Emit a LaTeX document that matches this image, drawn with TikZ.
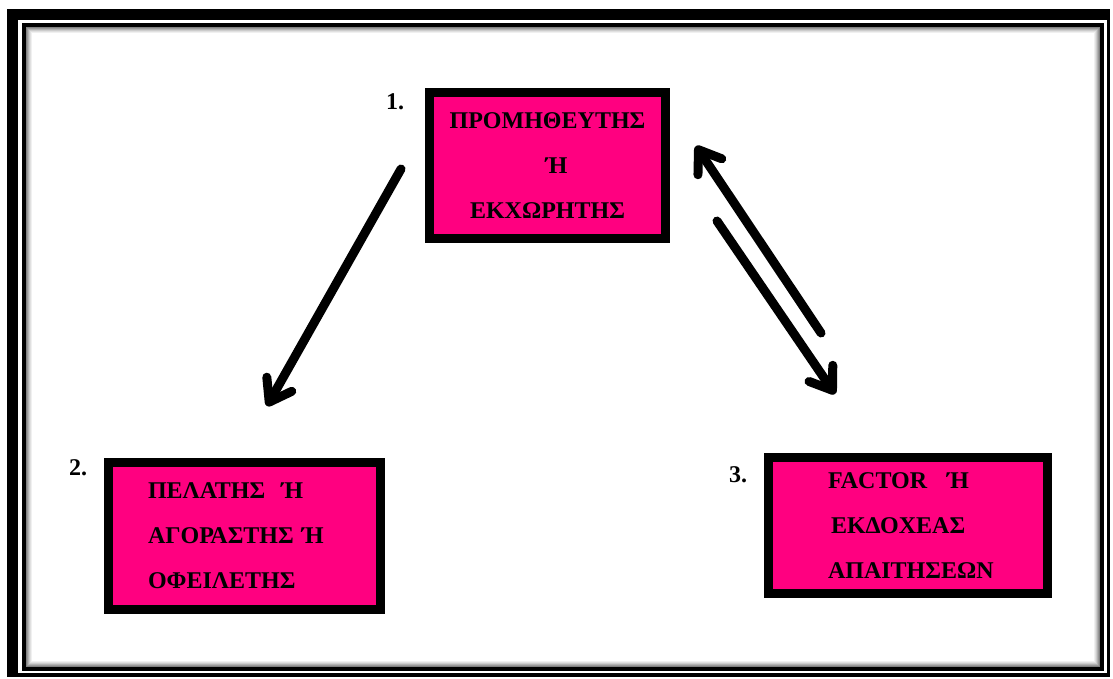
\documentclass[tikz,border=0pt]{standalone}
\usepackage{fontspec}
\setmainfont{Liberation Serif}
\usepackage{xcolor}
\usepackage{tikz}
\usetikzlibrary{arrows.meta}
\definecolor{boxpink}{RGB}{255,0,128}

\tikzset{
  partybox/.style={draw=black, line width=9pt, fill=boxpink, inner sep=0pt,
    font=\bfseries\fontsize{24}{45}\selectfont},
  numlabel/.style={inner sep=0pt, font=\bfseries\fontsize{24}{28}\selectfont},
  flow/.style={line width=9pt, line cap=round, -{Straight Barb[angle=70:25pt,round]}},
}

\begin{document}
\begin{tikzpicture}[x=1pt,y=-1pt]
            \useasboundingbox (0,0) rectangle (1113,678);

            % frame
            \fill[black] (7,9) rectangle (1110,677);
            \fill[white] (18,20) rectangle (1107,673);
            \draw[line width=4pt] (24,24.5) rectangle (1102,669);
            \foreach \i/\g in {1/50,2/40,3/30,4/20,5/12,6/6}
              \draw[black!\g, line width=1pt] (26+\i-0.5,27+\i-0.5) rectangle (1100-\i+0.5,667-\i+0.5);

            % parties
            \node[partybox, minimum width=236pt, minimum height=146pt, align=center]
              (supplier) at (547.5,165.5) {ΠΡΟΜΗΘΕΥΤΗΣ\\\hspace{18pt}Ή\\ΕΚΧΩΡΗΤΗΣ};
            \node[partybox, minimum width=272pt, minimum height=147pt, align=left, text width=192pt]
              (customer) at (244,535.5) {ΠΕΛΑΤΗΣ\hspace{16pt}Ή\\ΑΓΟΡΑΣΤΗΣ Ή\\ΟΦΕΙΛΕΤΗΣ};
            \node[partybox, minimum width=279pt, minimum height=136pt, align=left, text width=160pt]
              (factor) at (908,525.5) {FACTOR\hspace{20pt}Ή\\\hspace{3pt}ΕΚΔΟΧΕΑΣ\\ΑΠΑΙΤΗΣΕΩΝ};

            % numbers
            \node[numlabel] (num1) at (395,102) {1.};
            \node[numlabel] (num2) at (78,468) {2.};
            \node[numlabel] (num3) at (738,475) {3.};

            % arrows
            \coordinate (s1) at (401,169);
            \coordinate (e1) at (267,406);
            \coordinate (s2) at (821,333);
            \coordinate (e2) at (696,146);
            \coordinate (s3) at (717,221);
            \coordinate (e3) at (835,394);

            \draw[flow] (s1) -- (e1);
            \draw[flow] (s2) -- (e2);
            \draw[flow] (s3) -- (e3);
\end{tikzpicture}
\end{document}
